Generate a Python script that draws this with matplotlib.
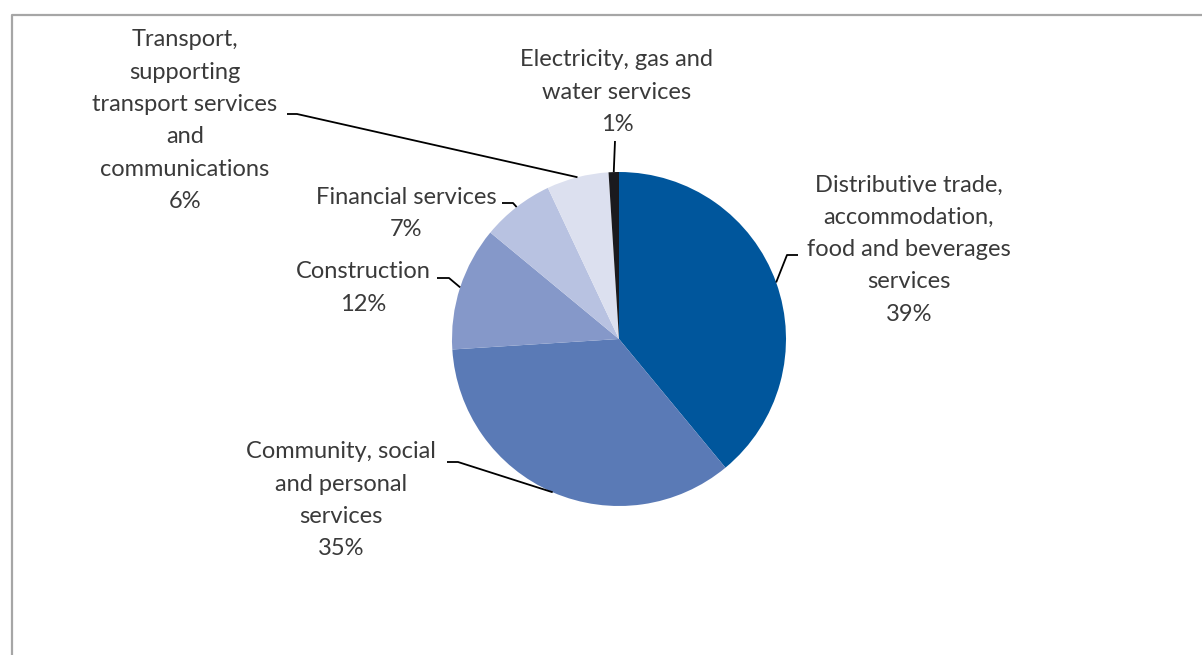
import matplotlib.pyplot as plt
import numpy as np
from matplotlib import rcParams

config = {"font.family": ['Lato', 'DejaVu Sans'], "font.size": 17}
rcParams.update(config)

sectors = ["Distributive trade,\naccommodation,\nfood and beverages\nservices",
           "Community, social\nand personal\nservices",
           "Construction",
           "Financial services",
           "Transport,\nsupporting\ntransport services\nand\ncommunications",
           "Electricity, gas and\nwater services"]
shares = [39, 35, 12, 7, 6, 1]
colors = ['#00569C', '#5A7AB6', '#8598C9', '#B8C2E1', '#DCE0EF', '#1A1A1E']

W, H = 1202, 655
cx, cy, rad = 619, 339, 167

# label centre (x, y of first line), leader elbow points in pixel coords
label_pos = [(909, 185), (341, 452), (363, 272), (406, 197), (185, 40), (617, 60)]
elbows = [[(798, 255), (787, 255)],
          [(447, 462), (458, 462)],
          [(437, 278), (449, 278)],
          [(502, 203), (513, 203)],
          [(287, 114), (297, 114)],
          [(615, 141)]]

fig = plt.figure(figsize=(W / 100, H / 100), dpi=100)
ax = fig.add_axes([0, 0, 1, 1])

wedges, _ = ax.pie(shares, colors=colors, startangle=90, counterclock=False,
                   center=(cx, H - cy), radius=rad,
                   wedgeprops=dict(linewidth=0))
ax.set_xlim(0, W)
ax.set_ylim(0, H)
ax.set_aspect('auto')
ax.axis('off')

line_h = 32.3
for w, name, val, (lx, ly), elb in zip(wedges, sectors, shares, label_pos, elbows):
    text = name + "\n" + f"{val}%"
    for i, s in enumerate(text.split("\n")):
        ax.text(lx, H - (ly + i * line_h), s, ha='center', va='center',
                color='#3a3a3a', fontsize=17)
    # leader from label to the middle of the wedge's outer edge
    mid = np.deg2rad((w.theta1 + w.theta2) / 2)
    px = cx + rad * np.cos(mid)
    py = (H - cy) + rad * np.sin(mid)
    xs = [p[0] for p in elb] + [px]
    ys = [H - p[1] for p in elb] + [py]
    ax.plot(xs, ys, color='black', lw=1.3, solid_capstyle='butt')

# chart frame
ax.plot([12, 12, W], [0, H - 15, H - 15], color='#A6A6A6', lw=1.6)

fig.savefig('out.png', dpi=100)
